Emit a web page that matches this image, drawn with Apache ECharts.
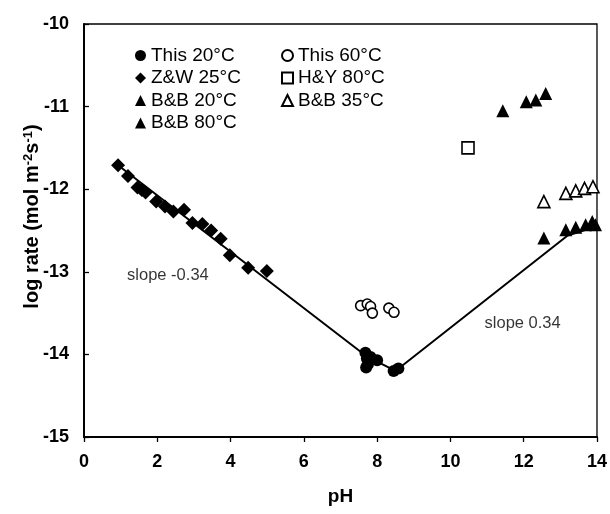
<!DOCTYPE html>
<html><head><meta charset="utf-8">
<script src="https://cdn.jsdelivr.net/npm/echarts@6/dist/echarts.min.js"></script>
<style>html,body{margin:0;padding:0;background:#fff}#c{width:610px;height:514px}</style>
</head><body><div id="c"></div>
<script>
var xTicks = [0, 2, 4, 6, 8, 10, 12, 14];
var yTicks = [-15, -14, -13, -12, -11, -10];
var this20 = [[7.68,-13.98],[7.72,-14.05],[7.75,-14.12],[7.7,-14.16],[7.82,-14.03],[8.0,-14.07],[8.45,-14.2],[8.58,-14.17]];
var this60 = [[7.55,-13.41],[7.73,-13.39],[7.82,-13.42],[7.87,-13.5],[8.32,-13.44],[8.46,-13.49]];
var zw25 = [[0.93,-11.71],[1.2,-11.84],[1.46,-11.98],[1.58,-12.01],[1.68,-12.04],[1.97,-12.15],[2.21,-12.21],[2.44,-12.27],[2.73,-12.25],[2.96,-12.41],[3.23,-12.42],[3.47,-12.5],[3.73,-12.6],[3.98,-12.8],[4.48,-12.95],[4.99,-12.99]];
var hy80 = [[10.48,-11.5]];
var bb20 = [[12.55,-12.59],[13.15,-12.49],[13.42,-12.46],[13.69,-12.43],[13.87,-12.39],[13.96,-12.43]];
var bb35 = [[12.55,-12.15],[13.15,-12.05],[13.42,-12.02],[13.66,-11.99],[13.89,-11.97]];
var bb80 = [[11.43,-11.05],[12.07,-10.94],[12.33,-10.92],[12.6,-10.84]];
var fitLine = [[0.93,-11.71],[7.7,-14.02],[8.5,-14.2],[13.2,-12.56],[14,-12.45]];
var labels = [{x:2.29,y:-13.05,text:'slope -0.34'},{x:11.97,y:-13.63,text:'slope 0.34'}];

var F = '"Liberation Sans", Arial, sans-serif';
var chart = echarts.init(document.getElementById('c'), null, {renderer:'canvas'});
function sc(name, data, symbol, size, filled) {
  return {
    name: name, type: 'scatter', data: data, symbol: symbol, symbolSize: size,
    itemStyle: filled ? {color:'#000', opacity: 1} : {color:'#fff', borderColor:'#000', borderWidth:1.6, opacity: 1},
    z: 3
  };
}
var legText = {fontFamily: F, fontSize: 19, color: '#000'};
chart.setOption({
  animation: false,
  grid: {left: 84, right: 12, top: 24, bottom: 77, show: true, borderColor: '#000', borderWidth: 1.3},
  legend: [
    {left: 130, top: 41, orient: 'vertical', itemGap: 3.5, itemWidth: 11, itemHeight: 11, textStyle: legText,
     data: ['This 20°C','Z&W 25°C','B&B 20°C','B&B 80°C']},
    {left: 276, top: 41, orient: 'vertical', itemGap: 3.5, itemWidth: 11, itemHeight: 11, textStyle: legText,
     data: ['This 60°C','H&Y 80°C','B&B 35°C']}
  ],
  xAxis: {
    type: 'value', min: 0, max: 14, interval: 2,
    name: 'pH', nameLocation: 'middle', nameGap: 50,
    nameTextStyle: {fontFamily: F, fontSize: 19, fontWeight: 'bold', color: '#000'},
    axisLine: {lineStyle: {color: '#000', width: 2}},
    axisTick: {inside: false, length: 5, lineStyle: {color: '#000', width: 1.3}},
    axisLabel: {fontFamily: F, fontSize: 18, fontWeight: 'bold', color: '#000', margin: 16,
      customValues: xTicks},
    splitLine: {show: false}
  },
  yAxis: {
    type: 'value', min: -15, max: -10, interval: 1,
    name: 'log rate (mol m{sup|-2}s{sup|-1})', nameLocation: 'middle', nameGap: 41, nameRotate: 90,
    nameMoveOverlap: false,
    nameTextStyle: {fontFamily: F, fontSize: 20, fontWeight: 'bold', color: '#000', padding: [0, 0, 0, 28],
      rich: {sup: {fontFamily: F, fontSize: 13, fontWeight: 'bold', color: '#000', verticalAlign: 'top', padding: [0,0,8,0]}}},
    axisLine: {lineStyle: {color: '#000', width: 2}},
    axisTick: {inside: true, length: 5, lineStyle: {color: '#000', width: 1.3}},
    axisLabel: {fontFamily: F, fontSize: 18, fontWeight: 'bold', color: '#000', margin: 15,
      customValues: yTicks},
    splitLine: {show: false}
  },
  series: [
    {name: 'fit', type: 'line', data: fitLine, symbol: 'none', lineStyle: {color: '#000', width: 2}, z: 2, silent: true},
    sc('This 20°C', this20, 'circle', 12, true),
    sc('This 60°C', this60, 'circle', 10, false),
    sc('Z&W 25°C', zw25, 'diamond', 14, true),
    sc('H&Y 80°C', hy80, 'rect', 12, false),
    sc('B&B 20°C', bb20, 'triangle', 13, true),
    sc('B&B 35°C', bb35, 'triangle', 12, false),
    sc('B&B 80°C', bb80, 'triangle', 13, true),
    {type: 'scatter', data: labels.map(function(l){return [l.x, l.y, l.text];}), symbolSize: 0, silent: true,
     label: {show: true, position: 'inside', formatter: function(p){return p.data[2];},
       fontFamily: F, fontSize: 16.5, color: '#000'}}
  ]
});
</script></body></html>
